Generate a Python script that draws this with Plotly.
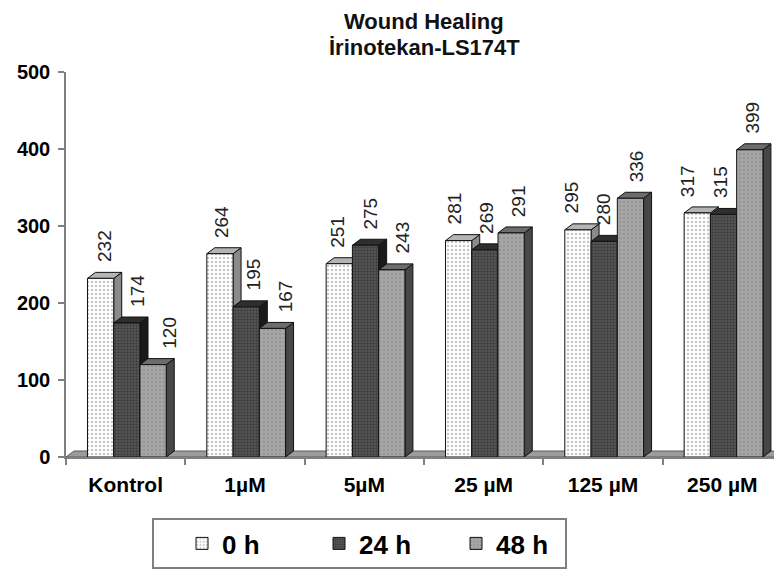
import plotly.graph_objects as go

# ---- data ----
categories = ["Kontrol", "1µM", "5µM", "25 µM", "125 µM", "250 µM"]
series_names = ["0 h", "24 h", "48 h"]
values_0h = [232, 264, 251, 281, 295, 317]
values_24h = [174, 195, 275, 269, 280, 315]
values_48h = [120, 167, 243, 291, 336, 399]
y_ticks = [0, 100, 200, 300, 400, 500]
title_lines = ["Wound Healing", "İrinotekan-LS174T"]

series_values = [values_0h, values_24h, values_48h]

# ---- geometry / style ----
# page body has an 8px margin, so the figure is 8px smaller than the window
W, H = 774, 565
ML, MR, MT, MB = 58, 0, 64, 116
n_cat = len(categories)
PW = W - ML - MR
PH = H - MT - MB
px_x = PW / n_cat
px_y = PH / 500.0
DX = 8 / px_x          # 3D depth in x data units
DY = 6 / px_y          # 3D depth in y data units
BW = 0.22              # bar width in category units
FONT = "Liberation Sans"

styles = [
    dict(front=dict(shape=".", bgcolor="#ffffff", fgcolor="#8c8c8c", size=4, solidity=0.3),
         top="#b4b4b4", side="#8a8a8a"),
    dict(front=dict(shape=".", bgcolor="#5c5c5c", fgcolor="#1c1c1c", size=3, solidity=0.5),
         top="#2e2e2e", side="#1a1a1a"),
    dict(front=dict(shape=".", bgcolor="#a6a6a6", fgcolor="#848484", size=4, solidity=0.3),
         top="#6c6c6c", side="#474747"),
]

fig = go.Figure()

# floor strip
x_lo, x_hi = -0.5, n_cat - 0.5
fig.add_trace(go.Scatter(
    x=[x_lo, x_hi, x_hi + DX, x_lo + DX, x_lo],
    y=[0, 0, DY, DY, 0],
    mode="lines", fill="toself", fillcolor="#9c9c9c",
    line=dict(color="#5a5a5a", width=1), hoverinfo="skip", showlegend=False))

for k, vals in enumerate(series_values):
    st = styles[k]
    sx, sy, tx, ty, fx, fy = [], [], [], [], [], []
    for i, v in enumerate(vals):
        x0 = i + (k - 1.5) * BW + 0.01
        x1 = x0 + BW
        sx += [x1, x1 + DX, x1 + DX, x1, x1, None]
        sy += [0, DY, v + DY, v, 0, None]
        tx += [x0, x1, x1 + DX, x0 + DX, x0, None]
        ty += [v, v, v + DY, v + DY, v, None]
        fx += [x0, x1, x1, x0, x0, None]
        fy += [0, 0, v, v, 0, None]
    fig.add_trace(go.Scatter(x=sx, y=sy, mode="lines", fill="toself",
                             fillcolor=st["side"], line=dict(color="#111", width=1),
                             hoverinfo="skip", showlegend=False))
    fig.add_trace(go.Scatter(x=tx, y=ty, mode="lines", fill="toself",
                             fillcolor=st["top"], line=dict(color="#111", width=1),
                             hoverinfo="skip", showlegend=False))
    fig.add_trace(go.Scatter(x=fx, y=fy, mode="lines", fill="toself",
                             fillpattern=st["front"], fillcolor=st["front"]["bgcolor"],
                             line=dict(color="#111", width=1),
                             hoverinfo="skip", showlegend=False))

# legend-only bars
for k, name in enumerate(series_names):
    st = styles[k]
    fig.add_trace(go.Bar(x=[0], y=[None], name=name,
                         marker=dict(color=st["front"]["bgcolor"], pattern=st["front"],
                                     line=dict(color="#111", width=1))))

# value labels
for k, vals in enumerate(series_values):
    for i, v in enumerate(vals):
        xc = i + (k - 1.0) * BW + 0.01
        fig.add_annotation(x=xc, y=v, xref="x", yref="y", text=str(v),
                           textangle=-90, showarrow=False,
                           xanchor="center", yanchor="bottom",
                           xshift=4 + 6 * k - 2.6 * i, yshift=14,
                           font=dict(family=FONT, size=19, color="#222"))

# title (two centred lines)
for j, line in enumerate(title_lines):
    fig.add_annotation(x=0.5, xref="paper", y=1 + (MT - 14 - 25 * j) / PH, yref="paper",
                       xanchor="center", yanchor="middle", showarrow=False,
                       text=line,
                       font=dict(family=FONT, size=22, color="#111", weight="bold"))

fig.update_layout(
    width=W, height=H,
    margin=dict(l=ML, r=MR, t=MT, b=MB, autoexpand=False),
    paper_bgcolor="white", plot_bgcolor="white",
    xaxis=dict(range=[x_lo, x_hi], tickmode="array", automargin=False,
               tickvals=list(range(n_cat)), ticktext=categories,
               ticks="", showgrid=False, zeroline=False,
               showline=True, linecolor="#808080", linewidth=1.5,
               tickfont=dict(family=FONT, size=21, color="#000", weight="bold"),
               ticklabelstandoff=8,
               minor=dict(tick0=-0.5, dtick=1, ticks="outside", ticklen=6,
                          tickcolor="#808080", tickwidth=1.5, showgrid=False)),
    yaxis=dict(range=[0, 500], tickmode="array", tickvals=y_ticks, automargin=False,
               ticks="outside", ticklen=6, tickcolor="#808080", tickwidth=1.5,
               showgrid=False, zeroline=False, ticklabelstandoff=4,
               showline=True, linecolor="#808080", linewidth=1.5,
               tickfont=dict(family=FONT, size=20, color="#000", weight="bold")),
    showlegend=True,
    legend=dict(orientation="h", x=(144 - ML) / PW, xanchor="left",
                y=(H - MB - 510) / PH, yanchor="top",
                bgcolor="white", bordercolor="#808080", borderwidth=2,
                entrywidth=64, indentation=28,
                font=dict(family=FONT, size=26, color="#000", weight="bold")),
)

fig.write_html("out.html")
